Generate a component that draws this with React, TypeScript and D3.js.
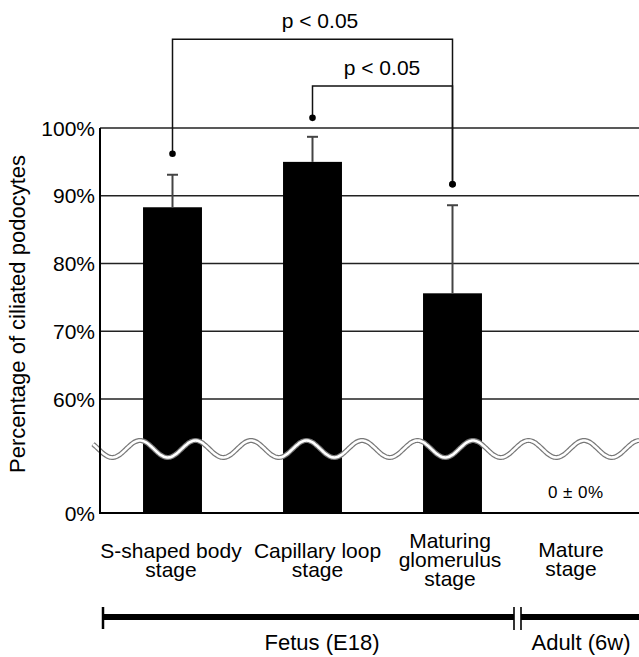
import React, { useEffect, useRef } from "react";
import * as d3 from "d3";

// data
const stages = ["S-shaped body stage", "Capillary loop stage", "Maturing glomerulus stage", "Mature stage"];
const stageLines = [["S-shaped body", "stage"], ["Capillary loop", "stage"], ["Maturing", "glomerulus", "stage"], ["Mature", "stage"]];
const means = [88.3, 95.0, 75.6, 0];
const errUpper = [93.1, 98.7, 88.6, 0];
const yTicks = [0, 60, 70, 80, 90, 100];
const groups = ["Fetus (E18)", "Adult (6w)"];
// significance brackets: [from index, to index, bracket level (%), dot level from, dot level to]
const brackets = [
  { from: 0, to: 2, level: 113.1, dotFrom: 96.2, dotTo: 91.7, label: "p < 0.05" },
  { from: 1, to: 2, level: 106.2, dotFrom: 101.5, dotTo: 91.7, label: "p < 0.05" },
];

const W = 639;
const H = 657;
const FONT = "'Liberation Sans', Arial, sans-serif";

const App = () => {
  const ref = useRef<SVGSVGElement>(null);

  useEffect(() => {
    const svg = d3.select(ref.current);
    svg.selectAll("*").remove();

    // broken y axis: 0 at bottom, 60..100 above the break
    const y = d3.scaleLinear().domain([0, 60, 100]).range([513, 399, 128]);
    const x = d3.scaleBand().domain(stages).range([102.5, 662.5]).paddingInner(0.579).paddingOuter(0.2895);
    const bw = x.bandwidth();
    const cx = (i: number) => (x(stages[i]) as number) + bw / 2;
    const axisX = 100;

    // gridlines
    svg.append("g")
      .selectAll("line")
      .data(yTicks.filter((t) => t > 0))
      .enter()
      .append("line")
      .attr("x1", axisX).attr("x2", W)
      .attr("y1", (d) => y(d)).attr("y2", (d) => y(d))
      .attr("stroke", "#222").attr("stroke-width", 1.3);

    // tick labels
    svg.append("g")
      .selectAll("text")
      .data(yTicks)
      .enter()
      .append("text")
      .attr("x", 95)
      .attr("y", (d) => y(d) + 7.5)
      .attr("text-anchor", "end")
      .attr("font-family", FONT).attr("font-size", 21)
      .text((d) => d + "%");

    // bars
    svg.append("g")
      .selectAll("rect")
      .data(means)
      .enter()
      .filter((d) => d > 0)
      .append("rect")
      .attr("x", (d, i) => x(stages[i]) as number)
      .attr("y", (d) => y(d))
      .attr("width", bw)
      .attr("height", (d) => y(0) - y(d))
      .attr("fill", "#000");

    // error bars
    const eg = svg.append("g").attr("stroke", "#444").attr("stroke-width", 2);
    means.forEach((m, i) => {
      if (m <= 0) return;
      eg.append("line").attr("x1", cx(i)).attr("x2", cx(i)).attr("y1", y(m)).attr("y2", y(errUpper[i]));
      eg.append("line").attr("x1", cx(i) - 5.5).attr("x2", cx(i) + 5.5).attr("y1", y(errUpper[i])).attr("y2", y(errUpper[i]));
    });

    // break wave
    const waveY = 449;
    const period = 55.5;
    const amp = 8.5;
    const pts = d3.range(93, W + 1, 1).map((px) => [px, waveY - amp * Math.cos((2 * Math.PI * (px - 140)) / period)] as [number, number]);
    const wave = d3.line().curve(d3.curveBasis)(pts) as string;
    svg.append("path").attr("d", wave).attr("fill", "none").attr("stroke", "#777").attr("stroke-width", 5);
    svg.append("path").attr("d", wave).attr("fill", "none").attr("stroke", "#fff").attr("stroke-width", 2.6);

    // y axis + baseline
    svg.append("line").attr("x1", axisX).attr("x2", axisX).attr("y1", y(100)).attr("y2", y(0) + 1)
      .attr("stroke", "#000").attr("stroke-width", 2);
    svg.append("line").attr("x1", axisX).attr("x2", W).attr("y1", y(0)).attr("y2", y(0))
      .attr("stroke", "#000").attr("stroke-width", 2);

    // 0 ± 0% note for mature stage
    svg.append("text")
      .attr("x", 548).attr("y", 498)
      .attr("font-family", FONT).attr("font-size", 17)
      .attr("textLength", 55).attr("lengthAdjust", "spacing")
      .text("0 ± 0%");

    // y axis title
    svg.append("text")
      .attr("transform", "translate(25,314) rotate(-90)")
      .attr("text-anchor", "middle")
      .attr("font-family", FONT).attr("font-size", 22)
      .text("Percentage of ciliated podocytes");

    // significance brackets
    const bg = svg.append("g");
    brackets.forEach((b) => {
      const x1 = cx(b.from);
      const x2 = cx(b.to);
      bg.append("path")
        .attr("d", `M${x1},${y(b.dotFrom)}V${y(b.level)}H${x2}V${y(b.dotTo)}`)
        .attr("fill", "none").attr("stroke", "#111").attr("stroke-width", 1.5);
      bg.append("circle").attr("cx", x1).attr("cy", y(b.dotFrom)).attr("r", 3.3).attr("fill", "#000");
      bg.append("circle").attr("cx", x2).attr("cy", y(b.dotTo)).attr("r", 3.3).attr("fill", "#000");
    });
    const labelX = [320, 382];
    bg.selectAll("text")
      .data(brackets)
      .enter()
      .append("text")
      .attr("x", (d, i) => labelX[i])
      .attr("y", (d) => y(d.level) - 11)
      .attr("text-anchor", "middle")
      .attr("font-family", FONT).attr("font-size", 21)
      .text((d) => d.label);

    // category labels
    const labelNudge = [-1.5, 5, -2.5, -21.5];
    const firstBase = [558, 558, 548, 557];
    const lg = svg.append("g").attr("font-family", FONT).attr("font-size", 21).attr("text-anchor", "middle");
    stageLines.forEach((lines, i) => {
      const t = lg.append("text").attr("x", cx(i) + labelNudge[i]).attr("y", firstBase[i]);
      lines.forEach((ln, j) => {
        t.append("tspan").attr("x", cx(i) + labelNudge[i]).attr("dy", j === 0 ? 0 : 19).text(ln);
      });
    });

    // fetus / adult timeline
    const lineY = 617;
    const breakL = 514;
    const breakR = 521;
    const tl = svg.append("g").attr("stroke", "#000");
    tl.append("line").attr("x1", 103).attr("x2", breakL).attr("y1", lineY).attr("y2", lineY).attr("stroke-width", 6);
    tl.append("line").attr("x1", breakR).attr("x2", W).attr("y1", lineY).attr("y2", lineY).attr("stroke-width", 6);
    tl.append("line").attr("x1", 103).attr("x2", 103).attr("y1", 607).attr("y2", 629).attr("stroke-width", 2.5);
    tl.append("line").attr("x1", breakL).attr("x2", breakL).attr("y1", 607).attr("y2", 630).attr("stroke-width", 1.6);
    tl.append("line").attr("x1", breakR).attr("x2", breakR).attr("y1", 607).attr("y2", 630).attr("stroke-width", 1.6);

    const groupX = [322, 581];
    svg.append("g")
      .selectAll("text")
      .data(groups)
      .enter()
      .append("text")
      .attr("x", (d, i) => groupX[i])
      .attr("y", 650)
      .attr("text-anchor", "middle")
      .attr("font-family", FONT).attr("font-size", 22)
      .text((d) => d);
  }, []);

  return (
    <svg
      ref={ref}
      width={W}
      height={H}
      style={{ position: "absolute", left: 0, top: 0, background: "#fff" }}
    ></svg>
  );
};

export default App;
